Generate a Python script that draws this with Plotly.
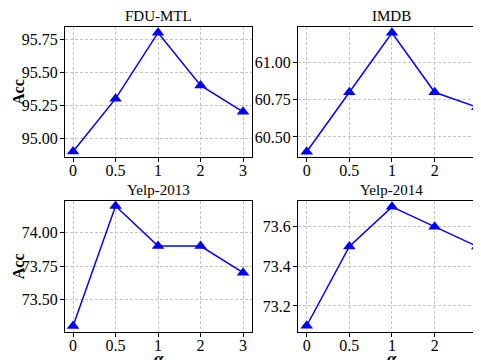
import plotly.graph_objects as go

alpha_labels = ["0", "0.5", "1", "2", "3"]
titles = ["FDU-MTL", "IMDB", "Yelp-2013", "Yelp-2014"]
fdu_mtl = [94.9, 95.3, 95.8, 95.4, 95.2]
imdb = [60.4, 60.8, 61.2, 60.8, 60.7]
yelp2013 = [73.3, 74.2, 73.9, 73.9, 73.7]
yelp2014 = [73.1, 73.5, 73.7, 73.6, 73.5]

series = [fdu_mtl, imdb, yelp2013, yelp2014]
yranges = [[94.858, 95.843], [60.365, 61.239], [73.257, 74.24], [73.07, 73.731]]
ytickvals = [[95.0, 95.25, 95.5, 95.75], [60.5, 60.75, 61.0], [73.5, 73.75, 74.0], [73.2, 73.4, 73.6]]
yticktext = [["95.00", "95.25", "95.50", "95.75"], ["60.50", "60.75", "61.00"],
             ["73.50", "73.75", "74.00"], ["73.2", "73.4", "73.6"]]

OFF = 8  # page body margin
W, H = 481 - OFF, 360 - OFF


def px(x):
    return (x - OFF) / W


def py(y):
    return 1 - (y - OFF) / H


xdoms = [[px(65), px(252)], [px(298), 1.0]]
xranges = [[-0.19, 4.21], [-0.204, 4.087]]
ydoms = [[py(157), py(27)], [py(331.7), py(200.7)]]
xcent = [(px(65) + px(252)) / 2, (px(298) + px(486)) / 2]

FONT = "Liberation Serif, Times New Roman, serif"
fig = go.Figure()
annotations = []
for i in range(4):
    r, c = divmod(i, 2)
    xa = "x" if i == 0 else f"x{i+1}"
    ya = "y" if i == 0 else f"y{i+1}"
    fig.add_trace(go.Scatter(
        x=list(range(len(alpha_labels))), y=series[i], xaxis=xa, yaxis=ya,
        mode="lines+markers",
        line=dict(color="#0000ff", width=1.5),
        marker=dict(symbol="triangle-up", size=11, color="#0000ff"),
        showlegend=False, cliponaxis=False,
    ))
    xkey = "xaxis" if i == 0 else f"xaxis{i+1}"
    ykey = "yaxis" if i == 0 else f"yaxis{i+1}"
    fig.layout[xkey] = dict(
        domain=xdoms[c], range=xranges[c], anchor=ya,
        tickvals=list(range(len(alpha_labels))), ticktext=alpha_labels,
        showline=True, linecolor="black", linewidth=1, mirror=True,
        ticks="outside", ticklen=4, tickcolor="black", ticklabelstandoff=-5,
        showgrid=True, gridcolor="#c4c4c4", griddash="3px,2px", gridwidth=0.8,
        zeroline=False, tickfont=dict(family=FONT, size=16, color="black"),
    )
    fig.layout[ykey] = dict(
        domain=ydoms[r], range=yranges[i], anchor=xa,
        tickvals=ytickvals[i], ticktext=yticktext[i],
        showline=True, linecolor="black", linewidth=1, mirror=(c == 0),
        ticks="outside", ticklen=4, tickcolor="black", ticklabelstandoff=-1,
        showgrid=True, gridcolor="#c4c4c4", griddash="3px,2px", gridwidth=0.8,
        zeroline=False, tickfont=dict(family=FONT, size=16, color="black"),
    )
    annotations.append(dict(
        text=titles[i], x=xcent[c], y=ydoms[r][1], xref="paper", yref="paper",
        xanchor="center", yanchor="bottom", yshift=1, showarrow=False,
        font=dict(family=FONT, size=15, color="black"),
    ))
    if c == 0:
        annotations.append(dict(
            text="<b>Acc</b>", x=px(18), y=(ydoms[r][0] + ydoms[r][1]) / 2,
            xref="paper", yref="paper", xanchor="center", yanchor="middle",
            textangle=-90, showarrow=False,
            font=dict(family=FONT, size=16, color="black"),
        ))
    if r == 1:
        annotations.append(dict(
            text="<b><i>α</i></b>", x=xcent[c], y=py(347),
            xref="paper", yref="paper", xanchor="center", yanchor="top",
            showarrow=False,
            font=dict(family=FONT, size=17, color="black"),
        ))

fig.update_layout(
    width=W, height=H, margin=dict(l=0, r=0, t=0, b=0),
    paper_bgcolor="white", plot_bgcolor="white",
    annotations=annotations,
)
fig.write_html("out.html")
